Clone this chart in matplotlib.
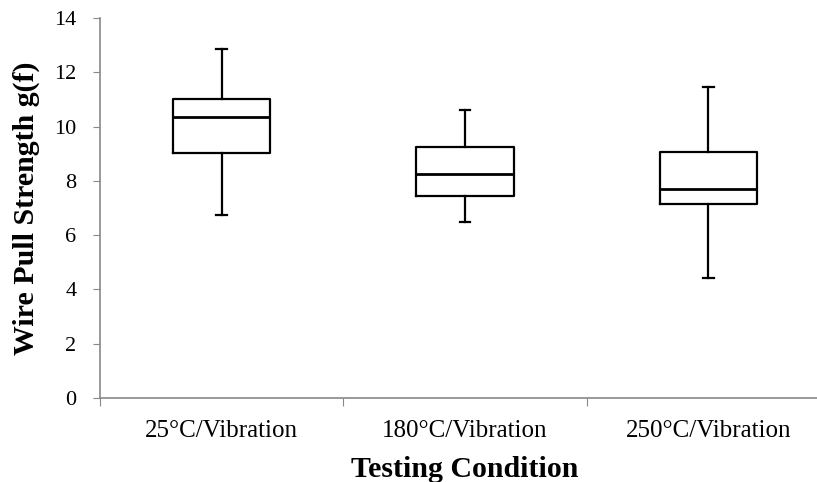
import matplotlib.pyplot as plt
import numpy as np

plt.rcParams['font.family'] = ['Liberation Serif', 'DejaVu Serif']

conditions = ['25°C/Vibration', '180°C/Vibration', '250°C/Vibration']
whisker_low = [6.74, 6.48, 4.43]
q1 = [9.02, 7.45, 7.15]
median = [10.35, 8.25, 7.69]
q3 = [11.03, 9.24, 9.05]
whisker_high = [12.86, 10.62, 11.47]

stats = []
for i in range(len(conditions)):
    stats.append({'label': conditions[i], 'whislo': whisker_low[i], 'q1': q1[i],
                  'med': median[i], 'q3': q3[i], 'whishi': whisker_high[i], 'fliers': []})

fig = plt.figure(figsize=(8.17, 4.82), dpi=100)
ax = fig.add_axes([100 / 817, 84 / 482, 730 / 817, 380 / 482])

pos = np.arange(1, len(conditions) + 1)
ax.bxp(stats, positions=pos, widths=0.4, showfliers=False, patch_artist=False,
       boxprops=dict(color='black', linewidth=1.6),
       medianprops=dict(color='black', linewidth=2.0),
       whiskerprops=dict(color='black', linewidth=1.6),
       capprops=dict(color='black', linewidth=1.6),
       capwidths=0.045)

ax.set_xlim(0.5, len(conditions) + 0.5)
ax.set_ylim(0, 14)
ax.set_yticks(np.arange(0, 15, 2))

# ticks at category boundaries, labels at centres
ax.set_xticks(np.arange(0.5, len(conditions) + 1, 1))
ax.set_xticklabels([])
ax.set_xticks(pos, minor=True)
ax.set_xticklabels(conditions, minor=True)
ax.tick_params(axis='x', which='major', length=6, color='#888888', direction='out')
ax.tick_params(axis='x', which='minor', length=0, pad=16, labelsize=18)
ax.tick_params(axis='y', length=5, color='#888888', pad=12, labelsize=16)

for s in ['top', 'right']:
    ax.spines[s].set_visible(False)
for s in ['left', 'bottom']:
    ax.spines[s].set_color('#888888')
    ax.spines[s].set_linewidth(1.2)

ax.set_xlabel('Testing Condition', fontsize=21.5, fontweight='bold', labelpad=10)
ax.set_ylabel('Wire Pull Strength g(f)', fontsize=21.5, fontweight='bold', labelpad=10)

fig.savefig('out.png', dpi=100)
